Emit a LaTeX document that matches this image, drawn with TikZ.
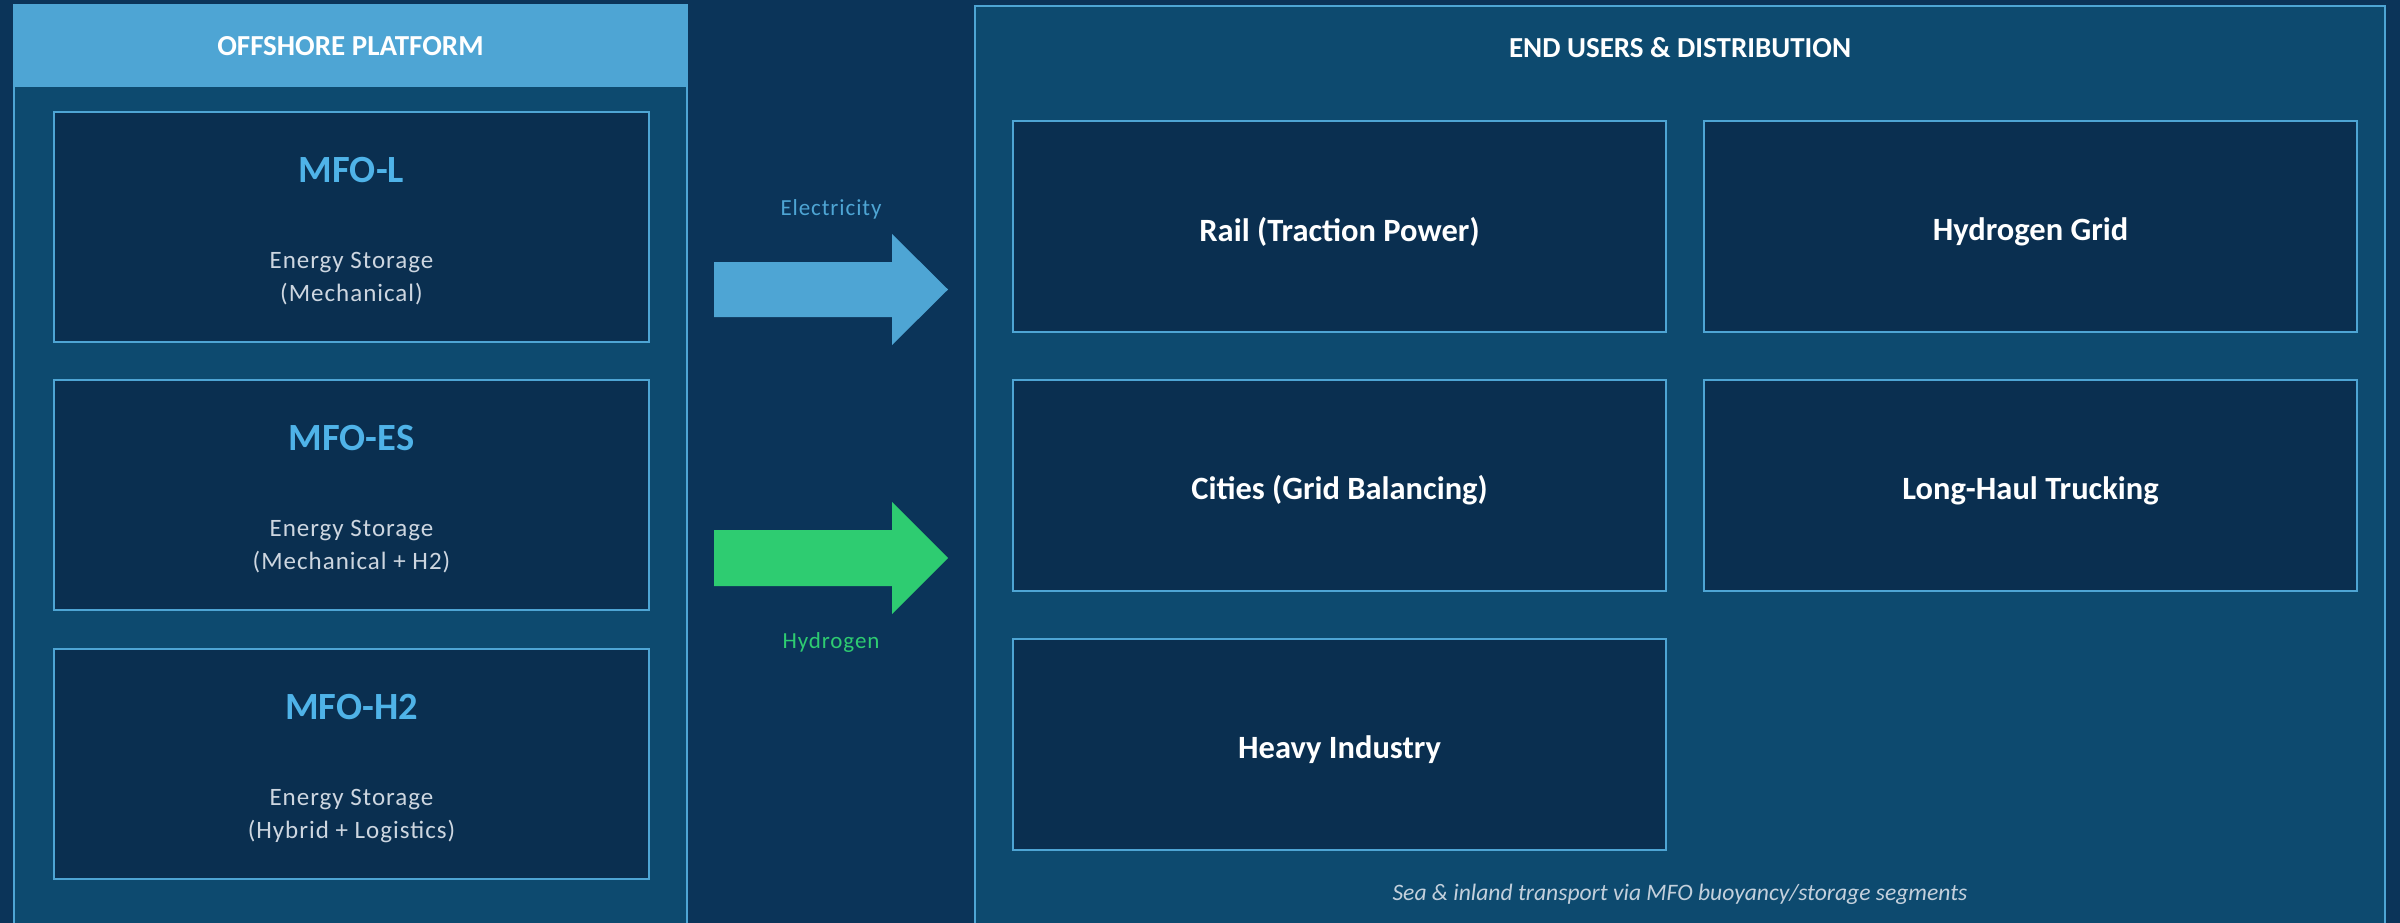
\documentclass[tikz,border=0pt]{standalone}
\usepackage{fontspec}
\setmainfont{Carlito}
\newfontfamily\spacedfont[LetterSpace=4]{Carlito}
\usetikzlibrary{calc}
\definecolor{bgnavy}{HTML}{0B3459}
\definecolor{panelblue}{HTML}{0D4A6F}
\definecolor{boxnavy}{HTML}{0A2F50}
\definecolor{lineblue}{HTML}{4EA5D4}
\definecolor{titleblue}{HTML}{4FB3E8}
\definecolor{flowgreen}{HTML}{2ECC71}
\definecolor{softgray}{HTML}{CDD6E0}
\definecolor{captiongray}{HTML}{C3D0DC}
\begin{document}
\begin{tikzpicture}[x=1pt,y=-1pt,
  panel/.style={draw=lineblue, line width=2pt, fill=panelblue, anchor=north west, inner sep=0pt, outer sep=0pt},
  headerbar/.style={fill=lineblue, anchor=north west, inner sep=0pt, outer sep=0pt, minimum width=673pt, minimum height=82pt},
  card/.style={draw=lineblue, line width=1.5pt, fill=boxnavy, anchor=north west, inner sep=0pt, outer sep=0pt},
  leftcard/.style={card, minimum width=595pt, minimum height=230pt},
  rightcard/.style={card, minimum width=653pt, minimum height=211pt},
  headtext/.style={font=\fontsize{29}{34}\selectfont\bfseries, text=white, inner sep=0pt},
  mfotitle/.style={font=\fontsize{38.5}{44}\selectfont\bfseries, text=titleblue, inner sep=0pt},
  mfobody/.style={font=\fontsize{25}{33}\spacedfont, text=softgray, align=center, inner sep=0pt},
  usertext/.style={font=\fontsize{32.5}{38}\selectfont\bfseries, text=white, inner sep=0pt},
  flowlabel/.style={font=\fontsize{23}{28}\spacedfont, inner sep=0pt},
  captiontext/.style={font=\fontsize{23.6}{28}\selectfont\itshape, text=captiongray, inner sep=0pt}
]
\useasboundingbox (0,0) rectangle (2400,923);
\fill[bgnavy] (0,0) rectangle (2400,923);

% panels
\node[panel, minimum width=673pt, minimum height=940pt] (leftpanel) at (14,5) {};
\node[headerbar] (lefthead) at (14,5) {};
\node[headtext] (lefttitle) at (lefthead.center) {OFFSHORE PLATFORM};

\node[panel, minimum width=1410pt, minimum height=940pt] (rightpanel) at (975,6) {};
\node[headtext] (righttitle) at (1680,48) {END USERS \& DISTRIBUTION};

% left cards
\node[leftcard] (mfol) at (54,112) {};
\node[mfotitle] (mfoltitle) at ($(mfol.north)+(0,58)$) {MFO-L};
\node[mfobody] (mfoltext) at ($(mfol.north)+(0,167)$) {Energy Storage\\(Mechanical)};

\node[leftcard] (mfoes) at (54,380) {};
\node[mfotitle] (mfoestitle) at ($(mfoes.north)+(0,58)$) {MFO-ES};
\node[mfobody] (mfoestext) at ($(mfoes.north)+(0,167)$) {Energy Storage\\(Mechanical + H2)};

\node[leftcard] (mfoh) at (54,649) {};
\node[mfotitle] (mfohtitle) at ($(mfoh.north)+(0,58)$) {MFO-H2};
\node[mfobody] (mfohtext) at ($(mfoh.north)+(0,167)$) {Energy Storage\\(Hybrid + Logistics)};

% right cards
\node[rightcard] (rail) at (1013,121) {};
\node[usertext] at ($(rail.center)+(0,5)$) {Rail (Traction Power)};
\node[rightcard] (hgrid) at (1704,121) {};
\node[usertext] at ($(hgrid.center)+(0,5)$) {Hydrogen Grid};
\node[rightcard] (cities) at (1013,380) {};
\node[usertext] at ($(cities.center)+(0,5)$) {Cities (Grid Balancing)};
\node[rightcard] (trucking) at (1704,380) {};
\node[usertext] at ($(trucking.center)+(0,5)$) {Long-Haul Trucking};
\node[rightcard] (industry) at (1013,639) {};
\node[usertext] at ($(industry.center)+(0,5)$) {Heavy Industry};

\node[captiontext] (caption) at (1680,894) {Sea \& inland transport via MFO buoyancy/storage segments};

% flow arrows
\coordinate (etail) at (714,289.5);
\coordinate (htail) at (714,558);
\fill[lineblue] ($(etail)+(0,-27.5)$) -- ++(178,0) -- ++(0,-28) -- ++(56,55.5) -- ++(-56,55.5) -- ++(0,-28) -- ++(-178,0) -- cycle;
\fill[flowgreen] ($(htail)+(0,-28)$) -- ++(178,0) -- ++(0,-28) -- ++(56,56) -- ++(-56,56) -- ++(0,-28) -- ++(-178,0) -- cycle;
\node[flowlabel, text=lineblue] (elabel) at (831,209) {Electricity};
\node[flowlabel, text=flowgreen] (hlabel) at (831,642) {Hydrogen};
\end{tikzpicture}
\end{document}
